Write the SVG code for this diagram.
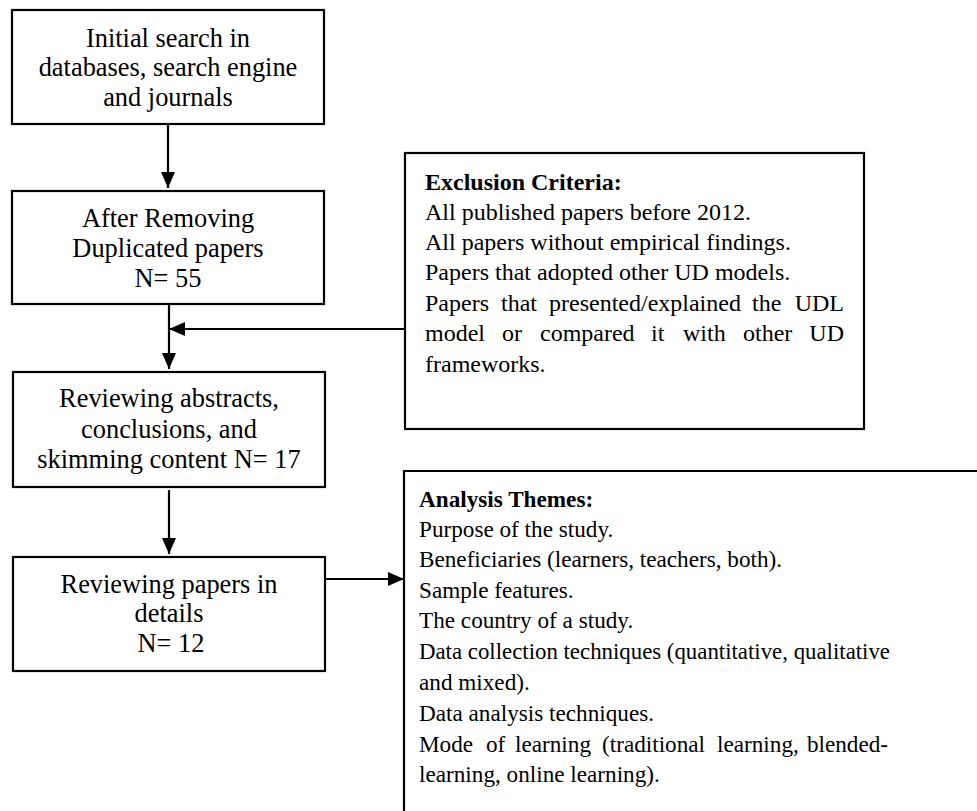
<svg xmlns="http://www.w3.org/2000/svg" width="977" height="811" viewBox="0 0 977 811">
<style>
.box{fill:#fff;stroke:#000;stroke-width:2.2}
.lbl{font-family:"Liberation Serif","Times New Roman",serif;font-size:26.4px;fill:#000;text-anchor:middle}
.ex{font-family:"Liberation Serif","Times New Roman",serif;font-size:24px;fill:#000}
.an{font-family:"Liberation Serif","Times New Roman",serif;font-size:23.2px;fill:#000}
.b{font-weight:bold}
.con{stroke:#000;stroke-width:2.2;fill:none}
</style>
<defs>
<marker id="ah" markerWidth="16" markerHeight="14" refX="16" refY="7" orient="auto" markerUnits="userSpaceOnUse">
<path d="M0,0 L16,7 L0,14 Z" fill="#000"/>
</marker>
</defs>
<rect width="977" height="811" fill="#fff"/>
<g id="n1">
<rect class="box" x="12" y="10" width="312" height="114"/>
<text class="lbl" x="168" y="47">Initial search in</text>
<text class="lbl" x="168" y="76">databases, search engine</text>
<text class="lbl" x="168" y="106">and journals</text>
</g>
<g id="n2">
<rect class="box" x="12" y="191" width="312" height="113"/>
<text class="lbl" x="168" y="227">After Removing</text>
<text class="lbl" x="168" y="257">Duplicated papers</text>
<text class="lbl" x="168" y="287">N= 55</text>
</g>
<g id="n3">
<rect class="box" x="13" y="372" width="312" height="115"/>
<text class="lbl" x="169" y="407">Reviewing abstracts,</text>
<text class="lbl" x="169" y="438">conclusions, and</text>
<text class="lbl" x="169" y="468">skimming content N= 17</text>
</g>
<g id="n4">
<rect class="box" x="13" y="557" width="312" height="114"/>
<text class="lbl" x="169" y="593">Reviewing papers in</text>
<text class="lbl" x="169" y="622">details</text>
<text class="lbl" x="171" y="652">N= 12</text>
</g>
<g id="exclusion">
<rect class="box" x="405" y="153" width="459" height="276"/>
<text class="ex b" x="425" y="190">Exclusion Criteria:</text>
<text class="ex" x="425" y="220">All published papers before 2012.</text>
<text class="ex" x="425" y="250">All papers without empirical findings.</text>
<text class="ex" x="425" y="280">Papers that adopted other UD models.</text>
<text class="ex" y="311"><tspan x="425">Papers</tspan><tspan x="501">that</tspan><tspan x="549">presented/explained</tspan><tspan x="752">the</tspan><tspan x="844" text-anchor="end">UDL</tspan></text>
<text class="ex" y="341"><tspan x="425">model</tspan><tspan x="502">or</tspan><tspan x="540">compared</tspan><tspan x="651">it</tspan><tspan x="683">with</tspan><tspan x="743">other</tspan><tspan x="844" text-anchor="end">UD</tspan></text>
<text class="ex" x="425" y="372">frameworks.</text>
</g>
<g id="analysis">
<path class="box" d="M404,812 L404,471 L980,471"/>
<text class="an b" x="419" y="507">Analysis Themes:</text>
<text class="an" x="419" y="537">Purpose of the study.</text>
<text class="an" x="419" y="567">Beneficiaries (learners, teachers, both).</text>
<text class="an" x="419" y="598">Sample features.</text>
<text class="an" x="419" y="628">The country of a study.</text>
<text class="an" x="419" y="659" textLength="471" lengthAdjust="spacingAndGlyphs">Data collection techniques (quantitative, qualitative</text>
<text class="an" x="419" y="690">and mixed).</text>
<text class="an" x="419" y="721">Data analysis techniques.</text>
<text class="an" y="752"><tspan x="419">Mode</tspan><tspan x="486">of</tspan><tspan x="515">learning</tspan><tspan x="602">(traditional</tspan><tspan x="717">learning,</tspan><tspan x="888" text-anchor="end">blended-</tspan></text>
<text class="an" x="419" y="782">learning, online learning).</text>
</g>
<g id="connectors">
<line class="con" x1="168" y1="124" x2="168" y2="188" marker-end="url(#ah)"/>
<line class="con" x1="169" y1="304" x2="169" y2="369" marker-end="url(#ah)"/>
<line class="con" x1="405" y1="329" x2="169" y2="329" marker-end="url(#ah)"/>
<line class="con" x1="169" y1="490" x2="169" y2="554" marker-end="url(#ah)"/>
<line class="con" x1="325" y1="579" x2="404" y2="579" marker-end="url(#ah)"/>
</g>
</svg>
